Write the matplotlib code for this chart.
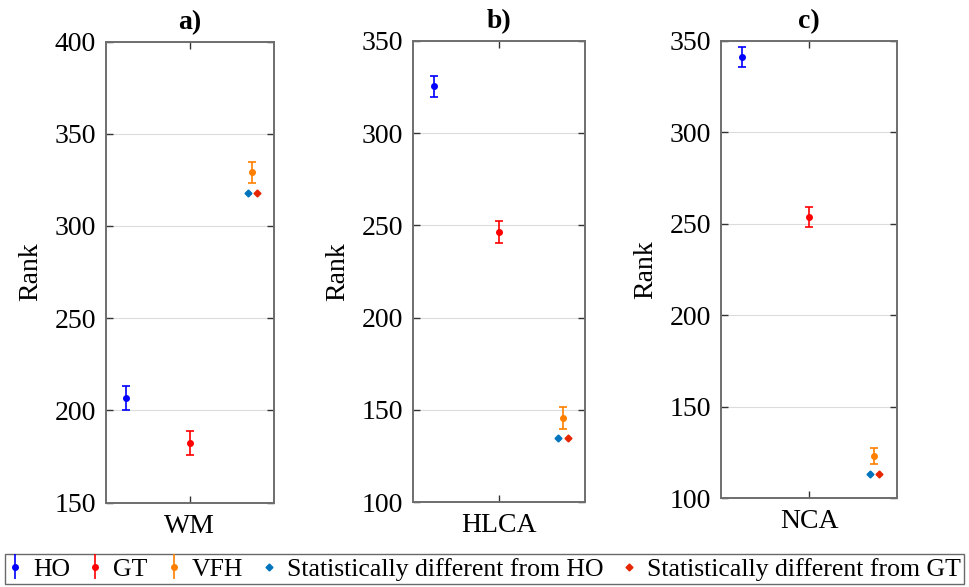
import matplotlib
matplotlib.use("Agg")
import matplotlib.pyplot as plt
from matplotlib.lines import Line2D

plt.rcParams['font.family'] = ['Liberation Serif', 'DejaVu Serif']
plt.rcParams['font.size'] = 20

groups = ['WM', 'HLCA', 'NCA']
titles = ['a)', 'b)', 'c)']

ho_mean = [206.5, 325.4, 341.1]
ho_err = [6.5, 5.5, 5.6]
gt_mean = [182.5, 246.5, 253.5]
gt_err = [6.5, 6.1, 5.5]
vfh_mean = [329.0, 145.7, 122.8]
vfh_err = [5.7, 6.0, 4.4]

# level of the significance diamonds under the VFH point
sig_level = [318.0, 134.6, 113.3]

ylims = [(150, 400), (100, 350), (100, 350)]
yticks = [[150, 200, 250, 300, 350, 400],
          [100, 150, 200, 250, 300, 350],
          [100, 150, 200, 250, 300, 350]]

c_ho = (0, 0, 1)
c_gt = (1, 0, 0)
c_vfh = (1, 0.5, 0)
c_sig_ho = (0.0, 0.45, 0.74)
c_sig_gt = (0.9, 0.15, 0.0)

boxes = [
    [0.1091, 0.1436, 0.1734, 0.7857],
    [0.4262, 0.1445, 0.1775, 0.7857],
    [0.7441, 0.1516, 0.1816, 0.7790],
]

fig = plt.figure(figsize=(9.69, 5.87), dpi=100)

x_ho, x_gt, x_vfh = -0.38, 0.0, 0.37
eb_kw = dict(fmt='o', ms=4, capsize=3, elinewidth=1.2, capthick=1.2)

for i, box in enumerate(boxes):
    ax = fig.add_axes(box)
    ax.errorbar([x_ho], [ho_mean[i]], yerr=[ho_err[i]], color=c_ho, **eb_kw)
    ax.errorbar([x_gt], [gt_mean[i]], yerr=[gt_err[i]], color=c_gt, **eb_kw)
    ax.errorbar([x_vfh], [vfh_mean[i]], yerr=[vfh_err[i]], color=c_vfh, **eb_kw)
    ax.plot([x_vfh - 0.025], [sig_level[i]], 'D', ms=3.5, color=c_sig_ho)
    ax.plot([x_vfh + 0.03], [sig_level[i]], 'D', ms=3.5, color=c_sig_gt)

    ax.set_xlim(-0.5, 0.5)
    ax.set_ylim(*ylims[i])
    ax.set_yticks(yticks[i])
    ax.set_xticks([0])
    ax.set_xticklabels([groups[i]])
    ax.set_ylabel('Rank', fontsize=20, labelpad=8)
    ax.set_title(titles[i], fontsize=20, fontweight='bold', pad=9)
    ax.yaxis.grid(True, color='#dcdcdc', lw=0.8)
    ax.set_axisbelow(True)
    ax.tick_params(direction='in', top=True, right=True, length=5,
                   width=1, color='#333333', labelsize=20)
    ax.tick_params(axis='x', pad=8)
    ax.tick_params(axis='y', pad=7)
    for s in ax.spines.values():
        s.set_color('#6e6e6e')
        s.set_linewidth(1.4)

handles = [
    plt.errorbar([], [], yerr=[], color=c_ho, **eb_kw),
    plt.errorbar([], [], yerr=[], color=c_gt, **eb_kw),
    plt.errorbar([], [], yerr=[], color=c_vfh, **eb_kw),
    Line2D([], [], ls='none', marker='D', ms=3.5, color=c_sig_ho),
    Line2D([], [], ls='none', marker='D', ms=3.5, color=c_sig_gt),
]
labels = ['HO', 'GT', 'VFH', 'Statistically different from HO',
          'Statistically different from GT']
leg = fig.legend(handles, labels, loc='lower center', ncol=5,
                 bbox_to_anchor=(0.5, 0.0), frameon=True, fancybox=False,
                 edgecolor='#444444', fontsize=18.5, handlelength=0.5,
                 handletextpad=0.45, columnspacing=0.75, borderpad=0.15,
                 borderaxespad=0.1)
leg.get_frame().set_linewidth(1.0)

fig.savefig('out.png', dpi=100)
